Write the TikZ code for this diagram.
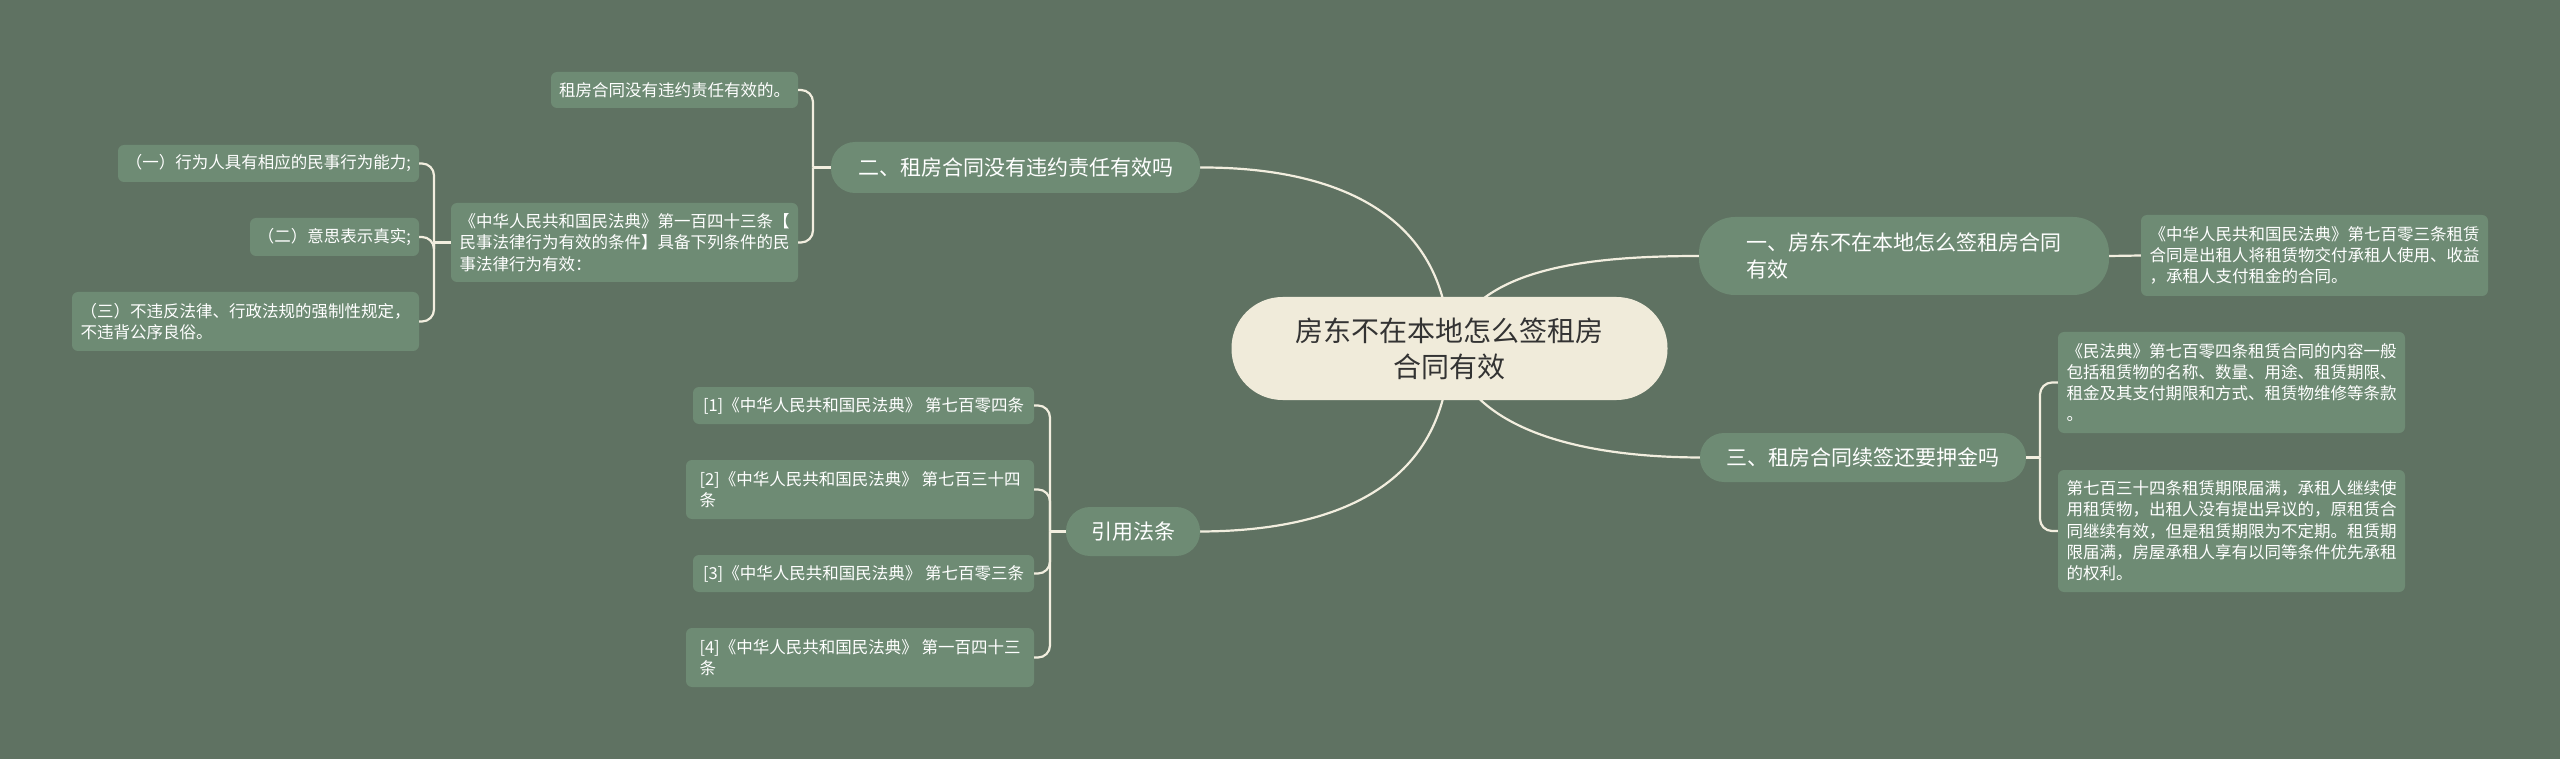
\documentclass[tikz,border=0pt]{standalone}
\usepackage{fontspec}
\newfontfamily\cjk{Noto Sans CJK SC}
\definecolor{bgcol}{HTML}{5F7262}
\definecolor{nodecol}{HTML}{6E8B74}
\definecolor{rootcol}{HTML}{F0EBDA}
\definecolor{rootink}{HTML}{333333}
\definecolor{linecol}{HTML}{F2EEDF}
\pgfdeclarelayer{back}
\pgfsetlayers{back,main}
\tikzset{
  rootnode/.style={fill=rootcol,rounded corners=51,text=rootink,inner sep=0pt,
    align=center,font=\cjk\fontsize{28}{36}\selectfont},
  branchnode/.style={fill=nodecol,rounded corners=24,text=white,inner sep=0pt,
    align=left,font=\cjk\fontsize{21}{27}\selectfont},
  leafnode/.style={fill=nodecol,rounded corners=6,text=white,inner sep=0pt,
    align=left,font=\cjk\fontsize{16.5}{21.3}\selectfont},
  link/.style={draw=linecol,line width=2.2},
  bracket/.style={link,rounded corners=12}
}

\begin{document}
\begin{tikzpicture}[x=1pt,y=-1pt]
  \useasboundingbox (0,0) rectangle (2560,759);
  \begin{pgfonlayer}{back}
    \fill[bgcol] (0,0) rectangle (2560,759);
  \end{pgfonlayer}

  % centre
  \node[rootnode,minimum width=436,minimum height=103] (root) at (1449.5,348.5)
    {房东不在本地怎么签租房\\合同有效};

  % right side
  \node[branchnode,minimum width=410,minimum height=78,rounded corners=36] (b1) at (1904,256)
    {一、房东不在本地怎么签租房合同\\有效};
  \node[leafnode,minimum width=347,minimum height=81] (l1) at (2314.5,255.5)
    {《中华人民共和国民法典》第七百零三条租赁\\合同是出租人将租赁物交付承租人使用、收益\\，承租人支付租金的合同。};

  \node[branchnode,minimum width=326,minimum height=49] (b3) at (1863,457.5)
    {三、租房合同续签还要押金吗};
  \node[leafnode,minimum width=347,minimum height=101] (l3a) at (2231.5,382.5)
    {《民法典》第七百零四条租赁合同的内容一般\\包括租赁物的名称、数量、用途、租赁期限、\\租金及其支付期限和方式、租赁物维修等条款\\。};
  \node[leafnode,minimum width=347,minimum height=122] (l3b) at (2231.5,531)
    {第七百三十四条租赁期限届满，承租人继续使\\用租赁物，出租人没有提出异议的，原租赁合\\同继续有效，但是租赁期限为不定期。租赁期\\限届满，房屋承租人享有以同等条件优先承租\\的权利。};

  % left side
  \node[branchnode,minimum width=369,minimum height=51] (b2) at (1015.5,167.5)
    {二、租房合同没有违约责任有效吗};
  \node[leafnode,minimum width=247,minimum height=36] (l2a) at (674.5,90)
    {租房合同没有违约责任有效的。};
  \node[leafnode,minimum width=347,minimum height=79] (l2b) at (624.5,242.5)
    {《中华人民共和国民法典》第一百四十三条【\\民事法律行为有效的条件】具备下列条件的民\\事法律行为有效：};
  \node[leafnode,minimum width=301,minimum height=37] (c1) at (268.5,163.5)
    {（一）行为人具有相应的民事行为能力;};
  \node[leafnode,minimum width=169,minimum height=38] (c2) at (334.5,237)
    {（二）意思表示真实;};
  \node[leafnode,minimum width=347,minimum height=59] (c3) at (245.5,321.5)
    {（三）不违反法律、行政法规的强制性规定，\\不违背公序良俗。};

  \node[branchnode,minimum width=134,minimum height=49] (refs) at (1133,531.5)
    {引用法条};
  \node[leafnode,minimum width=341,minimum height=37] (r1) at (863.5,405.5)
    {[1]《中华人民共和国民法典》 第七百零四条};
  \node[leafnode,minimum width=348,minimum height=59] (r2) at (860,489.5)
    {[2]《中华人民共和国民法典》 第七百三十四\\条};
  \node[leafnode,minimum width=341,minimum height=37] (r3) at (863.5,573.5)
    {[3]《中华人民共和国民法典》 第七百零三条};
  \node[leafnode,minimum width=348,minimum height=59] (r4) at (860,657.5)
    {[4]《中华人民共和国民法典》 第一百四十三\\条};

  % junctions
  \coordinate (j3) at (2040,457.5);
  \coordinate (j2) at (813,167.5);
  \coordinate (j2b) at (434,242.5);
  \coordinate (jr) at (1050,531.5);

  \begin{pgfonlayer}{back}
    \draw[link] (root.center) .. controls (1470,270) and (1580,256) .. (b1.west);
    \draw[link] (root.center) .. controls (1470,430) and (1580,457) .. (b3.west);
    \draw[link] (root.center) .. controls (1447,210) and (1330,167) .. (b2.east);
    \draw[link] (root.center) .. controls (1447,490) and (1330,531) .. (refs.east);
  \end{pgfonlayer}

  \draw[link] (b1.east) -- (l1.west);
  \draw[link] (b3.east) -- (j3);
  \draw[bracket] (j3) |- (l3a.west);
  \draw[bracket] (j3) |- (l3b.west);
  \draw[link] (b2.west) -- (j2);
  \draw[bracket] (j2) |- (l2a.east);
  \draw[bracket] (j2) |- (l2b.east);
  \draw[link] (l2b.west) -- (j2b);
  \draw[bracket] (j2b) |- (c1.east);
  \draw[bracket] (j2b) |- (c2.east);
  \draw[bracket] (j2b) |- (c3.east);
  \draw[link] (refs.west) -- (jr);
  \foreach \r in {r1,r2,r3,r4}
    \draw[bracket] (jr) |- (\r.east);
\end{tikzpicture}
\end{document}
